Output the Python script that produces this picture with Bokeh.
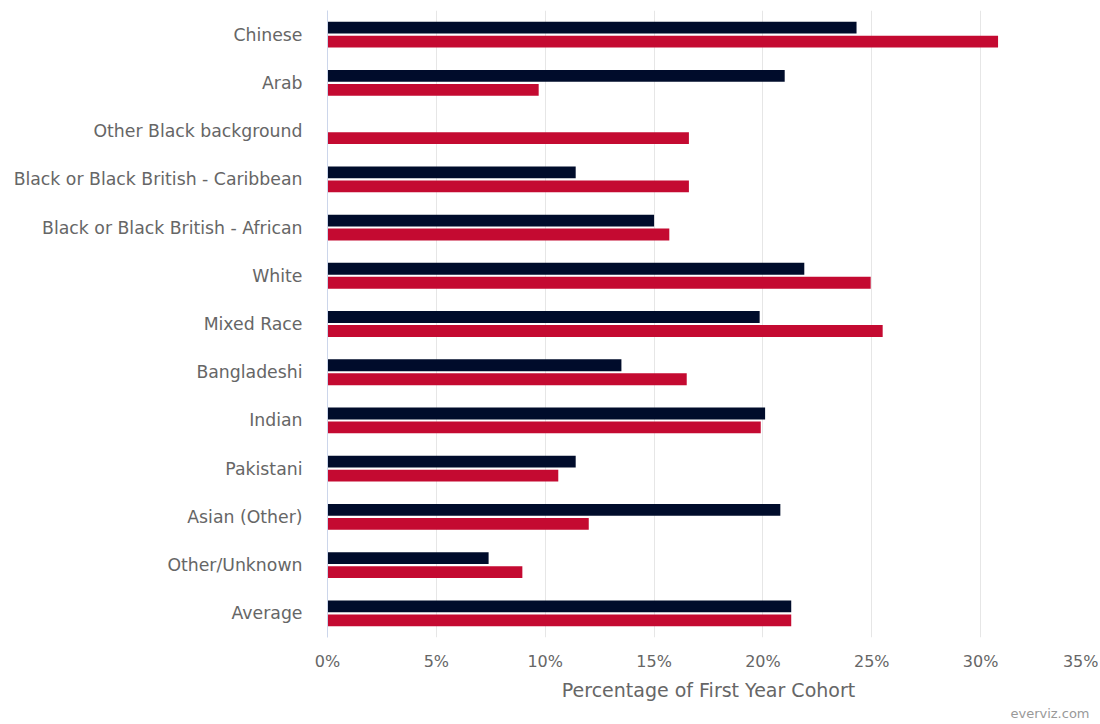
from bokeh.plotting import figure
from bokeh.models import FactorRange, Range1d, FixedTicker, PrintfTickFormatter, Title, ColumnDataSource
from bokeh.transform import dodge
from bokeh.embed import file_html
from bokeh.resources import INLINE

categories = ["Chinese", "Arab", "Other Black background",
              "Black or Black British - Caribbean", "Black or Black British - African",
              "White", "Mixed Race", "Bangladeshi", "Indian", "Pakistani",
              "Asian (Other)", "Other/Unknown", "Average"]
series_dark = [24.3, 21.0, 0.0, 11.4, 15.0, 21.9, 19.85, 13.5, 20.1, 11.4, 20.8, 7.4, 21.3]
series_red = [30.8, 9.7, 16.6, 16.6, 15.7, 24.95, 25.5, 16.5, 19.9, 10.6, 12.0, 8.95, 21.3]
x_ticks = [0, 5, 10, 15, 20, 25, 30, 35]
x_title = "Percentage of First Year Cohort"
credit = "everviz.com"

FONT = "DejaVu Sans"
DARK = "#000c2b"
RED = "#c40a31"

src = ColumnDataSource(dict(cat=categories, dark=series_dark, red=series_red))

p = figure(width=1098, height=721, output_backend="svg", toolbar_location=None,
           y_range=FactorRange(factors=list(reversed(categories))),
           x_range=Range1d(0, 35),
           min_border_left=327, min_border_right=9, min_border_top=10, min_border_bottom=84)

p.hbar(y=dodge("cat", 0.145, range=p.y_range), right="dark", left=0, height=0.245,
       source=src, fill_color=DARK, line_color=None)
p.hbar(y=dodge("cat", -0.145, range=p.y_range), right="red", left=0, height=0.245,
       source=src, fill_color=RED, line_color=None)

p.outline_line_color = None
p.ygrid.grid_line_color = None
p.xgrid.grid_line_color = "#e6e6e6"
p.xgrid.grid_line_width = 1

xa = p.xaxis[0]
xa.ticker = FixedTicker(ticks=x_ticks)
xa.formatter = PrintfTickFormatter(format="%d%%")
xa.axis_line_color = None
xa.major_tick_line_color = None
xa.minor_tick_line_color = None
xa.major_tick_out = 0
xa.major_label_standoff = 14
xa.major_label_text_font = FONT
xa.major_label_text_font_size = "16px"
xa.major_label_text_color = "#666666"
xa.axis_label = x_title
xa.axis_label_text_font = FONT
xa.axis_label_text_font_size = "19px"
xa.axis_label_text_font_style = "normal"
xa.axis_label_text_color = "#666666"
xa.axis_label_standoff = 5

ya = p.yaxis[0]
ya.axis_line_color = "#ccd6eb"
ya.axis_line_width = 1
ya.major_tick_line_color = None
ya.minor_tick_line_color = None
ya.major_tick_out = 0
ya.major_label_standoff = 25
ya.major_label_text_font = FONT
ya.major_label_text_font_size = "17.3px"
ya.major_label_text_color = "#666666"

p.add_layout(Title(text=credit, align="right", text_font=FONT, text_font_size="13px",
                   text_color="#999999", text_font_style="normal", standoff=0, offset=0), "below")

open("out.html", "w").write(file_html(p, INLINE))
